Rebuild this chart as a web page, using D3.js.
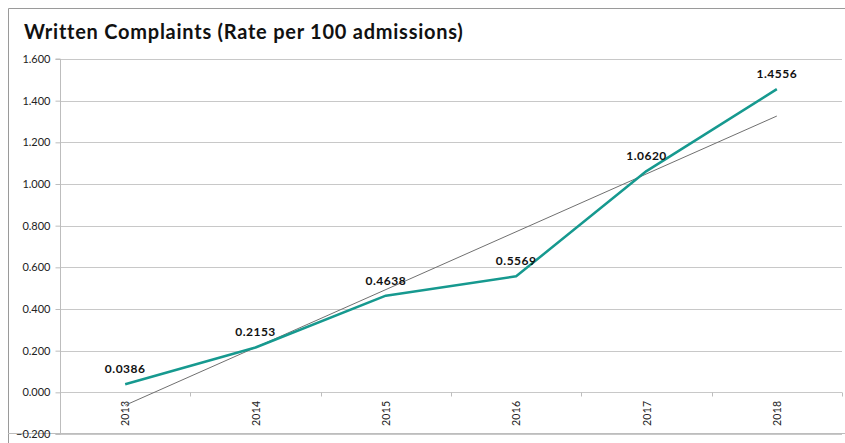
<!DOCTYPE html>
<html><head><meta charset="utf-8">
<script src="https://cdn.jsdelivr.net/npm/d3@7"></script>
<style>
body{margin:0;background:#fff;}
svg{display:block;font-family:Lato,"Open Sans",sans-serif;}
</style></head>
<body><svg id="c" width="845" height="443"></svg>
<script>
const title = "Written Complaints (Rate per 100 admissions)";
const years = ["2013","2014","2015","2016","2017","2018"];
const rates = [0.0386, 0.2153, 0.4638, 0.5569, 1.0620, 1.4556];
const rateLabels = ["0.0386","0.2153","0.4638","0.5569","1.0620","1.4556"];
const yTicks = [-0.2, 0, 0.2, 0.4, 0.6, 0.8, 1.0, 1.2, 1.4, 1.6];

(function(){
const svg = d3.select("#c");
const pL = 60, pR = 842, pT = 59, pB = 434;

// frame
svg.append("path").attr("d", `M8.5,443 V8.5 H845`).attr("fill","none").attr("stroke","#9a9a9a").attr("stroke-width",1);
svg.append("line").attr("x1",8).attr("x2",845).attr("y1",433.5).attr("y2",433.5).attr("stroke","#bdbdbd");

svg.append("text").attr("x",24).attr("y",39).text(title)
  .attr("font-size",20).attr("font-weight",700).attr("letter-spacing",0.75).attr("fill","#111");

const x = d3.scaleBand().domain(years).range([pL, pR]);
const y = d3.scaleLinear().domain([-0.2, 1.6]).range([pB, pT]);

// gridlines
svg.append("g").selectAll("line").data(yTicks).join("line")
  .attr("x1", pL).attr("x2", pR)
  .attr("y1", d => Math.round(y(d))+0.5).attr("y2", d => Math.round(y(d))+0.5)
  .attr("stroke", "#c8c8c8").attr("stroke-width",1);

// y axis
const ya = svg.append("g").attr("transform",`translate(${pL+0.5},0)`)
  .call(d3.axisLeft(y).tickValues(yTicks).tickFormat(d3.format(".3f")).tickSize(5).tickPadding(5));
ya.select(".domain").attr("stroke","#bdbdbd").attr("d", `M-5,${y(1.6)}H0V${y(-0.2)}H-5`);
ya.selectAll(".tick line").attr("stroke","#bdbdbd");
ya.selectAll(".tick text").attr("font-size",11).attr("fill","#222").attr("font-family","Lato,sans-serif");

// x axis at zero
const y0 = Math.round(y(0))+0.5;
const bounds = years.map(d => x(d) + x.bandwidth());
svg.append("g").selectAll("line").data(bounds).join("line")
  .attr("x1", d=>Math.round(d)+0.5).attr("x2", d=>Math.round(d)+0.5)
  .attr("y1", y0).attr("y2", y0+4).attr("stroke","#bdbdbd");
svg.append("g").selectAll("text").data(years).join("text")
  .attr("transform", d => `translate(${x(d)+x.bandwidth()/2+4},${y0+8}) rotate(-90)`)
  .attr("text-anchor","end").attr("font-size",10.5).attr("letter-spacing",0.3).attr("fill","#222").text(d=>d);

// trendline (linear regression of data)
const n = rates.length, idx = d3.range(n);
const mx = d3.mean(idx), my = d3.mean(rates);
const slope = d3.sum(idx, i => (i-mx)*(rates[i]-my)) / d3.sum(idx, i => (i-mx)**2);
const icpt = my - slope*mx;
const cx = i => x(years[i]) + x.bandwidth()/2;
svg.append("line")
  .attr("x1", cx(0)).attr("y1", y(icpt))
  .attr("x2", cx(n-1)).attr("y2", y(icpt + slope*(n-1)))
  .attr("stroke","#707070").attr("stroke-width",1);

// series line
svg.append("path").datum(rates)
  .attr("d", d3.line().x((d,i)=>cx(i)).y(d=>y(d)))
  .attr("fill","none").attr("stroke","#16998f").attr("stroke-width",2.5).attr("stroke-linejoin","round");

// data labels
svg.append("g").selectAll("text").data(rates).join("text")
  .attr("x",(d,i)=>cx(i)).attr("y", d => y(d) - 11)
  .attr("text-anchor","middle").attr("font-size",12).attr("font-weight",700).attr("letter-spacing",0.5).attr("fill","#111")
  .text((d,i)=>rateLabels[i]);
})();
</script></body></html>
